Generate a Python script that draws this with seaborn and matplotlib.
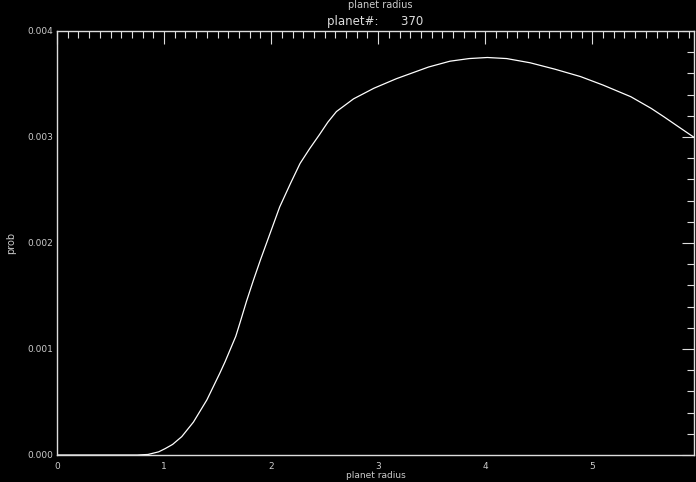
import matplotlib
matplotlib.use("Agg")
import matplotlib.pyplot as plt
import seaborn as sns
import pandas as pd
from matplotlib.ticker import MultipleLocator, FormatStrFormatter

radius = [0.0, 0.5, 0.75, 0.85, 0.95, 1.01, 1.08, 1.165, 1.274, 1.40, 1.52, 1.57,
          1.62, 1.67, 1.71, 1.77, 1.835, 1.90, 1.99, 2.08, 2.18, 2.27, 2.36, 2.45,
          2.53, 2.61, 2.77, 2.96, 3.17, 3.47, 3.67, 3.85, 4.02, 4.20, 4.42, 4.65,
          4.89, 5.10, 5.36, 5.55, 5.67, 5.80, 5.96]
prob_e3 = [0.0, 0.0, 0.0, 0.005, 0.03, 0.06, 0.10, 0.173, 0.31, 0.52, 0.77, 0.88,
           1.00, 1.12, 1.25, 1.45, 1.65, 1.84, 2.09, 2.34, 2.56, 2.75, 2.89, 3.02,
           3.14, 3.24, 3.36, 3.46, 3.55, 3.66, 3.715, 3.74, 3.75, 3.74, 3.70, 3.64,
           3.57, 3.49, 3.38, 3.27, 3.19, 3.10, 2.99]
prob = [v * 1e-3 for v in prob_e3]

title_text = "planet#:      370"
outer_title = "planet radius"
xlabel = "planet radius"
ylabel = "prob"

df = pd.DataFrame({"radius": radius, "prob": prob})

sns.set_style("dark", {"axes.facecolor": "black", "figure.facecolor": "black"})
plt.rcParams["font.family"] = ["DejaVu Sans"]

fig = plt.figure(figsize=(6.96, 4.82), dpi=100, facecolor="black")
ax = fig.add_axes([57 / 696, 1 - 455 / 482, 637 / 696, 424 / 482])
ax.set_facecolor("black")

sns.lineplot(data=df, x="radius", y="prob", ax=ax, color="white", linewidth=0.9)

ax.set_xlim(0, 5.95)
ax.set_ylim(0, 0.004)
ax.xaxis.set_major_locator(MultipleLocator(1))
ax.xaxis.set_minor_locator(MultipleLocator(0.1))
ax.yaxis.set_major_locator(MultipleLocator(0.001))
ax.yaxis.set_minor_locator(MultipleLocator(0.0002))
ax.yaxis.set_major_formatter(FormatStrFormatter("%.3f"))
ax.xaxis.set_major_formatter(FormatStrFormatter("%d"))

for side in ["left", "right", "top", "bottom"]:
    ax.spines[side].set_color("#dddddd")
    ax.spines[side].set_linewidth(1.0)

ax.tick_params(axis="both", which="both", direction="in", colors="#dddddd",
               top=True, right=True, labelsize=6.5, labelcolor="#cccccc")
ax.tick_params(axis="both", which="major", length=9, width=0.8)
ax.tick_params(axis="both", which="minor", length=5, width=0.8)
ax.tick_params(axis="x", pad=5)
ax.tick_params(axis="y", pad=3)
ax.grid(False)

ax.set_xlabel(xlabel, color="#cccccc", fontsize=6.5, labelpad=0)
ax.set_ylabel(ylabel, color="#cccccc", fontsize=7, labelpad=8)
ax.set_title(title_text, color="#dddddd", fontsize=8.5, pad=4)
fig.text(380 / 696, 1 - 5 / 482, outer_title, color="#cccccc", fontsize=7,
         ha="center", va="center")

fig.savefig("out.png", dpi=100, facecolor="black")
